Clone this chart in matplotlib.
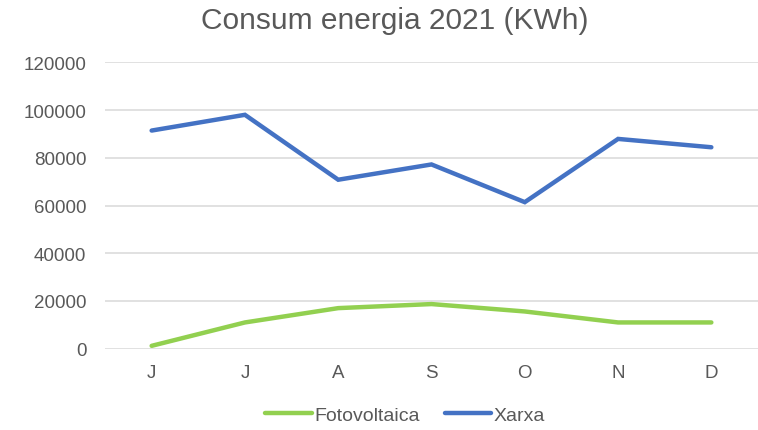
import matplotlib
matplotlib.use("Agg")
import matplotlib.pyplot as plt

months = ["J", "J", "A", "S", "O", "N", "D"]
fotovoltaica = [1200, 11000, 17000, 18700, 15600, 11000, 11000]
xarxa = [91400, 98000, 70800, 77200, 61400, 87900, 84400]
yticks = [0, 20000, 40000, 60000, 80000, 100000, 120000]

plt.rcParams['font.family'] = ['Liberation Sans', 'DejaVu Sans']
txt = "#595959"

fig = plt.figure(figsize=(7.58, 4.31), dpi=100)
ax = fig.add_axes([105/758, 1 - 349.7/431, (758 - 105)/758, (349.7 - 63.3)/431])

x = list(range(len(months)))
ax.plot(x, fotovoltaica, color="#92D050", lw=3.2, solid_capstyle="round", solid_joinstyle="miter", label="Fotovoltaica", zorder=3)
ax.plot(x, xarxa, color="#4472C4", lw=3.2, solid_capstyle="round", solid_joinstyle="miter", label="Xarxa", zorder=3)

ax.set_xlim(-0.5, len(months) - 0.5)
ax.set_ylim(0, 120000)
ax.set_yticks(yticks)
ax.set_yticklabels([str(v) for v in yticks])
ax.set_xticks(x)
ax.set_xticklabels(months)
ax.grid(axis="y", color="#d9d9d9", lw=1.1)
ax.set_axisbelow(True)
for s in ax.spines.values():
    s.set_visible(False)
ax.tick_params(axis="both", length=0, labelcolor=txt, labelsize=13.5)
ax.tick_params(axis="x", pad=11)
ax.tick_params(axis="y", pad=13.5)

fig.text(395/758, 1 - 21/431, "Consum energia 2021 (KWh)", ha="center", va="center", fontsize=21.5, color=txt)

leg = fig.legend(loc="center", bbox_to_anchor=(405/758, 1 - 416/431), ncol=2, frameon=False,
                 fontsize=14, handlelength=2.4, handletextpad=0.1, columnspacing=1.3)
for t in leg.get_texts():
    t.set_color(txt)

fig.savefig("out.png", dpi=100)
